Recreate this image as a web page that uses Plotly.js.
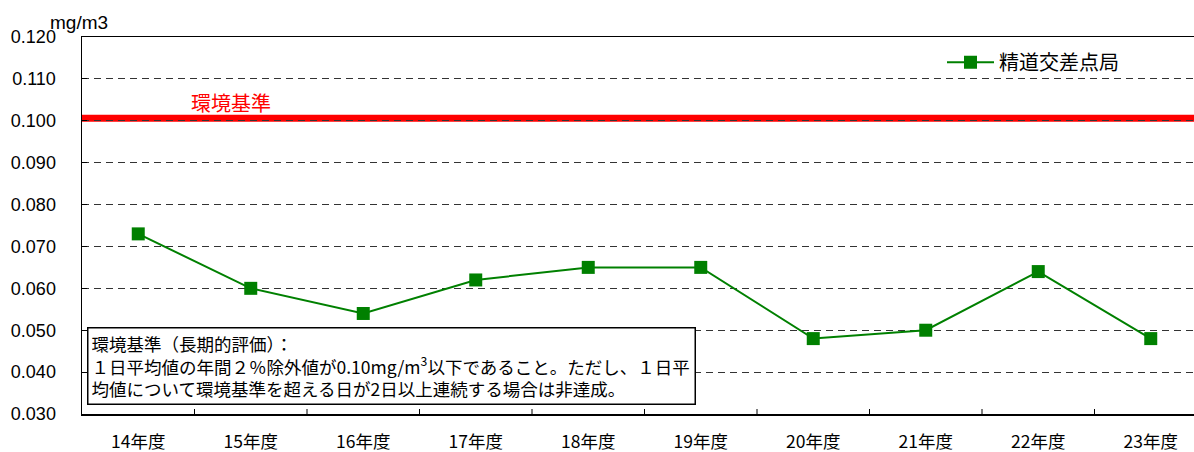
<!DOCTYPE html>
<html><head><meta charset="utf-8">
<script src="https://cdn.plot.ly/plotly-3.0.1.min.js"></script>
<style>html,body{margin:0;padding:0;background:#fff}</style>
</head><body>
<div id="chart" style="width:1194px;height:452px"></div>
<script>
const categories = ["14年度","15年度","16年度","17年度","18年度","19年度","20年度","21年度","22年度","23年度"];
const seriesName = "精道交差点局";
const seriesValues = [0.073,0.060,0.054,0.062,0.065,0.065,0.048,0.050,0.064,0.048];
const standardValue = 0.100;
const standardLabel = "環境基準";
const yTickValues = [0.030,0.040,0.050,0.060,0.070,0.080,0.090,0.100,0.110,0.120];
const yUnit = "mg/m3";
const noteLines = ["環境基準（長期的評価）：","１日平均値の年間２％除外値が0.10mg/m<sup>3</sup>以下であること。ただし、１日平","均値について環境基準を超える日が2日以上連続する場合は非達成。"];

const cjk = '"Noto Sans CJK JP", sans-serif';
const latin = '"Liberation Sans", Arial, sans-serif';
const idx = categories.map((c,i)=>i);

const trace = {
  x: idx, y: seriesValues, name: seriesName, type: 'scatter', mode: 'lines+markers',
  line: {color: '#008000', width: 2},
  marker: {symbol: 'square', size: 13, color: '#008000'},
  cliponaxis: false
};

const plotW = 1194 - 82;
const plotH = 452 - 37 - 38;
const catW = 112.5;
const layout = {
  width: 1194, height: 452,
  margin: {l: 82, r: 0, t: 37, b: 38},
  paper_bgcolor: '#fff', plot_bgcolor: '#fff',
  showlegend: true,
  legend: {x: (942-82)/plotW, y: 0.985, xanchor: 'left', yanchor: 'top', bgcolor: 'rgba(0,0,0,0)',
           itemwidth: 47, font: {family: cjk, size: 20, color: '#000'}},
  xaxis: {
    range: [-0.5, -0.5 + plotW/catW],
    tickmode: 'array', tickvals: idx, ticktext: categories,
    showgrid: false, zeroline: false,
    showline: true, linecolor: '#000', linewidth: 1.5, mirror: true,
    ticks: '', tickfont: {family: cjk, size: 17.5, color: '#000'},
    ticklabelstandoff: 11
  },
  yaxis: {
    range: [0.030, 0.120],
    tickmode: 'array', tickvals: yTickValues, ticktext: yTickValues.map(v=>v.toFixed(3)),
    showgrid: true, gridcolor: '#333', griddash: '7px,5px', gridwidth: 1,
    zeroline: false, showline: true, linecolor: '#000', linewidth: 1.5,
    ticks: 'inside', ticklen: 5, tickcolor: '#000', tickwidth: 1,
    tickfont: {family: latin, size: 18, color: '#000'},
    ticklabelstandoff: 21
  },
  shapes: [
    {type: 'line', xref: 'paper', x0: 0, x1: 1, yref: 'y', y0: standardValue + 0.0006, y1: standardValue + 0.0006,
     line: {color: '#ff0000', width: 7}, layer: 'below'}
  ].concat(idx.slice(1).map(i=>({type:'line', xref:'x', x0: i-0.5, x1: i-0.5, yref:'paper', y0: 0, y1: 5/plotH,
     line:{color:'#000', width:1}}))),
  annotations: [
    {xref: 'paper', yref: 'paper', x: -34/plotW, y: 1.0, xanchor: 'left', yanchor: 'middle', yshift: 15,
     text: yUnit, showarrow: false, font: {family: latin, size: 19, color: '#000'}},
    {xref: 'x', yref: 'y', x: -0.5, y: standardValue, xanchor: 'left', yanchor: 'middle', xshift: 107, yshift: 18,
     text: standardLabel, showarrow: false, font: {family: cjk, size: 20, color: '#ff0000'}},
    {xref: 'paper', yref: 'paper', x: 5/plotW, y: 9/plotH, xanchor: 'left', yanchor: 'bottom', align: 'left', valign: 'middle',
     text: noteLines.join('<br>'), showarrow: false, bgcolor: '#fff', bordercolor: '#000', borderwidth: 1.5,
     borderpad: 3, width: 600, height: 69, font: {family: cjk, size: 17.5, color: '#000'}}
  ]
};

Plotly.newPlot('chart', [trace], layout, {displayModeBar: false, staticPlot: true});
</script>
</body></html>
